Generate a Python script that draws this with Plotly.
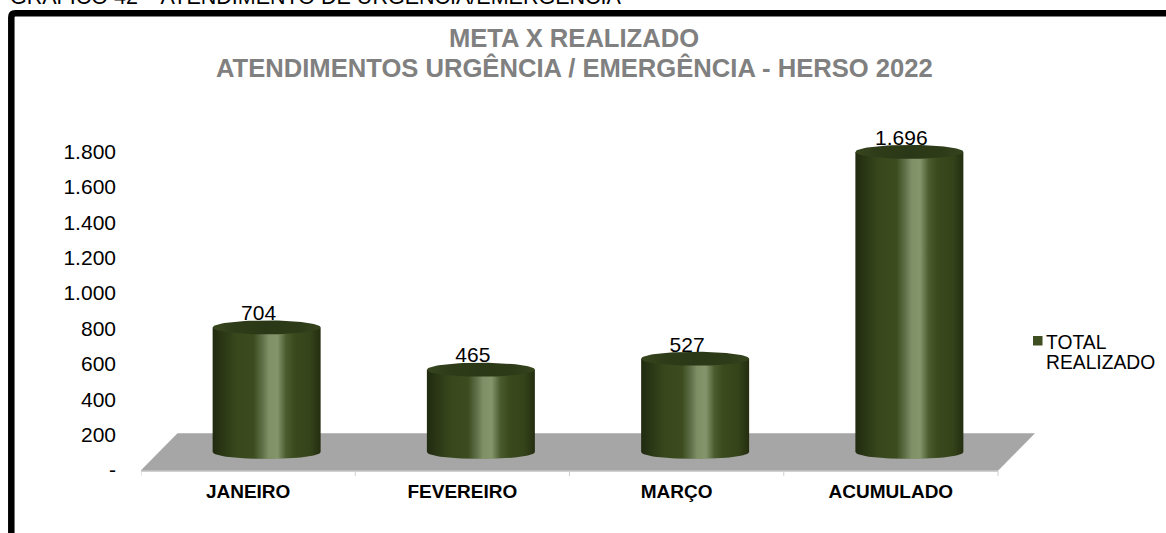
import numpy as np
import plotly.graph_objects as go

# ---- data ----
categories = ["JANEIRO", "FEVEREIRO", "MARÇO", "ACUMULADO"]
realizado = [704, 465, 527, 1696]
value_labels = ["704", "465", "527", "1.696"]
y_ticks = [0, 200, 400, 600, 800, 1000, 1200, 1400, 1600, 1800]
y_tick_labels = ["-", "200", "400", "600", "800", "1.000", "1.200", "1.400", "1.600", "1.800"]
series_lines = ["TOTAL", "REALIZADO"]
title_lines = ["META X REALIZADO", "ATENDIMENTOS URGÊNCIA / EMERGÊNCIA - HERSO 2022"]
caption = "GRÁFICO 42 – ATENDIMENTO DE URGÊNCIA/EMERGÊNCIA"

# ---- page / plot geometry (pixels) ----
W, H = 1166, 533
PL, PR, PT, PB = 141, 1035, 130, 471
px_per_cat = (998 - 141) / 4
px_per_val = (470 - 151.5) / 1800

x_range = [-0.5, -0.5 + (PR - PL) / px_per_cat]
y_range = [-1 / px_per_val, (PB - PT - 1) / px_per_val]
FONT = "Liberation Sans, Arial, sans-serif"


def dx(p):
    return p / px_per_cat


def dy(p):
    return p / px_per_val


def pap_x(p):
    return (p - PL) / (PR - PL)


def pap_y(p):
    return (PB - p) / (PB - PT)


# 3-D offsets of the fake perspective
floor_dx, floor_dy = 36.5, 36.5
bar_dx, bar_dy = 18.5, 18.0
bar_rx, bar_ry = 54, 7

side_stops = [
    [0.00, "#202a10"], [0.08, "#293514"], [0.22, "#38481c"], [0.38, "#3c4c1f"],
    [0.46, "#5f7048"], [0.52, "#7f9066"], [0.60, "#84946b"], [0.68, "#4a5b2e"],
    [0.76, "#3a4a1d"], [0.90, "#35431a"], [1.00, "#232e10"],
]
top_stops = [
    [0.00, "#38461f"], [0.2, "#2f3c19"], [0.5, "#2b3817"], [0.8, "#2e3b18"], [1.00, "#36441d"],
]

fig = go.Figure()

# floor
fig.add_trace(go.Scatter(
    x=[-0.5, 3.5, 3.5 + dx(floor_dx), -0.5 + dx(floor_dx), -0.5],
    y=[-dy(0.5), -dy(0.5), dy(floor_dy), dy(floor_dy), -dy(0.5)],
    mode="lines", fill="toself", fillcolor="#a6a6a6",
    line=dict(color="#a6a6a6", width=0.5),
    hoverinfo="skip", showlegend=False,
))

# value labels, underneath the cylinders
fig.add_trace(go.Scatter(
    x=[i + dx(bar_dx - 8) for i in range(len(categories))],
    y=[v + dy(bar_dy + 12.5) for v in realizado],
    mode="text", text=value_labels,
    textfont=dict(family=FONT, size=21, color="#000000"),
    textposition="middle center", hoverinfo="skip", showlegend=False, cliponaxis=False,
))

# cylinders
theta = np.linspace(0, np.pi, 40)
for i, v in enumerate(realizado):
    cx = i + dx(bar_dx)
    base = dy(bar_dy)
    top = base + v
    rx, ry = dx(bar_rx), dy(bar_ry)
    # side wall: across the top, then back along the lower front arc
    arc_x = cx + rx * np.cos(theta)
    arc_y = base - ry * np.sin(theta)
    xs = np.concatenate([[cx - rx, cx + rx], arc_x])
    ys = np.concatenate([[top, top], arc_y])
    fig.add_trace(go.Scatter(
        x=xs, y=ys, mode="lines", fill="toself",
        line=dict(width=0, color="rgba(0,0,0,0)"),
        fillgradient=dict(type="horizontal", colorscale=side_stops),
        name=categories[i], hovertemplate=f"{categories[i]}: {value_labels[i]}<extra></extra>",
        showlegend=False,
    ))
    t = np.linspace(0, 2 * np.pi, 80)
    fig.add_trace(go.Scatter(
        x=cx + rx * np.cos(t), y=top + ry * np.sin(t), mode="lines", fill="toself",
        line=dict(width=0, color="rgba(0,0,0,0)"),
        fillgradient=dict(type="horizontal", colorscale=top_stops),
        hoverinfo="skip", showlegend=False,
    ))

fig.update_layout(
    width=W, height=H,
    margin=dict(l=PL, r=W - PR, t=PT, b=H - PB, pad=0),
    paper_bgcolor="white", plot_bgcolor="rgba(0,0,0,0)",
    font=dict(family=FONT, color="#000000"),
    showlegend=False,
    xaxis=dict(
        range=x_range, tickmode="array", tickvals=list(range(len(categories))),
        ticktext=[f"<b>{c}</b>" for c in categories],
        showgrid=False, zeroline=False, showline=False, ticks="",
        tickfont=dict(size=19, color="#000000"), ticklabelstandoff=7,
    ),
    yaxis=dict(
        range=y_range, tickmode="array", tickvals=y_ticks, ticktext=y_tick_labels,
        showgrid=False, zeroline=False, showline=False, ticks="",
        tickfont=dict(size=21, color="#000000"), ticklabelstandoff=24,
    ),
    title=dict(
        text=f"<b>{title_lines[0]}</b>", x=574 / W, xanchor="center", y=1 - 29 / H, yanchor="top",
        font=dict(size=25.6, color="#808080", family=FONT),
    ),
)
fig.add_annotation(xref="paper", yref="paper", x=pap_x(574), y=pap_y(51), xanchor="center", yanchor="top",
                   text=f"<b>{title_lines[1]}</b>", showarrow=False,
                   font=dict(size=25.6, color="#808080", family=FONT))

# category axis line and ticks
for k in range(len(categories) + 1):
    fig.add_shape(type="line", xref="x", yref="paper", x0=k - 0.5, x1=k - 0.5,
                  y0=pap_y(471), y1=pap_y(476), line=dict(color="#d0d0d0", width=1))
fig.add_shape(type="line", xref="x", yref="paper", x0=-0.5, x1=3.5,
              y0=pap_y(471.5), y1=pap_y(471.5), line=dict(color="#d0d0d0", width=1))

# chart frame: only left and top edges fall inside the picture
fx, fy, r = 11.3, 13.3, 4
frame = (f"M {pap_x(fx)},{pap_y(H + 20)} L {pap_x(fx)},{pap_y(fy + r)} "
         f"Q {pap_x(fx)},{pap_y(fy)} {pap_x(fx + r)},{pap_y(fy)} L {pap_x(W + 20)},{pap_y(fy)}")
fig.add_shape(type="path", xref="paper", yref="paper", path=frame,
              line=dict(color="#000000", width=6.5))

# caption cut off by the top of the page, as in the source picture
fig.add_annotation(xref="paper", yref="paper", x=pap_x(8), y=pap_y(-17.5), xanchor="left", yanchor="top",
                   text=caption, showarrow=False, font=dict(size=21.5, color="#000000"))

# legend
fig.add_shape(type="rect", xref="paper", yref="paper", x0=pap_x(1033), x1=pap_x(1042.5),
              y0=pap_y(336), y1=pap_y(345.5), fillcolor="#3f4f22", line=dict(width=0))
for line, top_px in zip(series_lines, [330, 350]):
    fig.add_annotation(xref="paper", yref="paper", x=pap_x(1043.5), y=pap_y(top_px),
                       xanchor="left", yanchor="top", align="left", text=line, showarrow=False,
                       font=dict(size=19.3, color="#000000"))

fig.write_html("out.html", config={"displayModeBar": False},
               post_script="document.body.style.margin='0';document.body.style.overflow='hidden';window.dispatchEvent(new Event('resize'));")
